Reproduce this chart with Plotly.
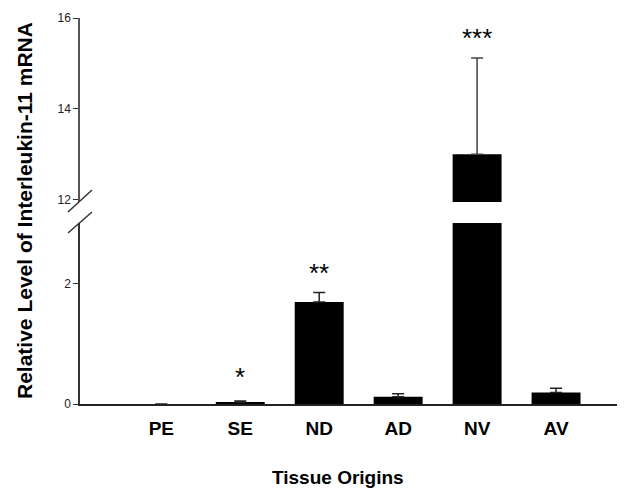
import plotly.graph_objects as go

categories = ["PE", "SE", "ND", "AD", "NV", "AV"]
values = [0.0, 0.03, 1.69, 0.12, 13.0, 0.19]
errors = [0.0, 0.02, 0.16, 0.05, 2.12, 0.07]
stars = ["", "*", "**", "", "***", ""]
star_levels = [None, 0.5, 2.22, None, 15.63, None]

LOW_MAX = 3.0
UP_MIN, UP_MAX = 11.95, 16.0

low_vals = list(values)
low_err = [e if (v <= LOW_MAX and e > 0) else None for v, e in zip(values, errors)]
up_vals = [v if v > LOW_MAX else None for v in values]
up_err = [e if v > LOW_MAX else None for v, e in zip(values, errors)]

# page offset (browser body margin)
OFF = 8
W, H = 625 - OFF, 489 - OFF
# reference pixel geometry
REF_L, REF_R, REF_T, REF_B = 80, 620, 18, 404
ml = REF_L - OFF
mt = REF_T - OFF
mr = W - (REF_R - OFF)
mb = H - (REF_B - OFF)
pw = W - ml - mr
ph = H - mt - mb


def px2paper(xr, yr):
    return (xr - REF_L) / pw, (REF_B - yr) / ph


low_top = (REF_B - 223) / ph
up_bot = (REF_B - 202) / ph

fig = go.Figure()
fig.add_trace(go.Bar(
    x=categories, y=low_vals, marker=dict(color="black", line=dict(width=0)),
    width=0.62, xaxis="x", yaxis="y",
    error_y=dict(type="data", symmetric=False, array=low_err, arrayminus=[0] * 6,
                 color="#222", thickness=1.5, width=6),
))
fig.add_trace(go.Bar(
    x=categories, y=up_vals, marker=dict(color="black", line=dict(width=0)),
    width=0.62, xaxis="x", yaxis="y2",
    error_y=dict(type="data", symmetric=False, array=up_err, arrayminus=[0] * 6,
                 color="#444", thickness=1.5, width=6),
))

font_main = "Liberation Sans, Arial, sans-serif"

annotations = []
for c, s, lv in zip(categories, stars, star_levels):
    if s:
        annotations.append(dict(
            x=c, y=lv, xref="x", yref="y2" if lv > LOW_MAX else "y",
            text=s, showarrow=False, yanchor="middle", yshift=-3,
            font=dict(family=font_main, size=26, color="black"),
        ))
tx, ty = px2paper(24, 211)
annotations.append(dict(
    x=tx, y=ty, xref="paper", yref="paper",
    text="<b>Relative Level of Interleukin-11 mRNA</b>", textangle=-90,
    showarrow=False, xanchor="center", yanchor="middle",
    font=dict(family=font_main, size=21, color="black"),
))
tx, ty = px2paper(338, 477)
annotations.append(dict(
    x=tx, y=ty, xref="paper", yref="paper",
    text="<b>Tissue Origins</b>", showarrow=False, xanchor="center", yanchor="middle",
    font=dict(family=font_main, size=19, color="black"),
))

shapes = []
for (x0, y0, x1, y1) in [(68, 212, 92, 190), (68, 233, 92, 212)]:
    a0, b0 = px2paper(x0, y0)
    a1, b1 = px2paper(x1, y1)
    shapes.append(dict(type="line", xref="paper", yref="paper", x0=a0, y0=b0, x1=a1, y1=b1,
                       line=dict(color="#333", width=1.5)))

fig.update_layout(
    width=W, height=H, margin=dict(l=ml, r=mr, t=mt, b=mb, autoexpand=False),
    paper_bgcolor="white", plot_bgcolor="white", showlegend=False,
    xaxis=dict(type="category", range=[-1.03, 5.81], anchor="y", automargin=False,
               showline=True, linecolor="#222", linewidth=1.5, ticks="", showgrid=False,
               tickfont=dict(family=font_main, size=19, color="black"),
               tickvals=categories, ticktext=[f"<b>{c}</b>" for c in categories],
               ticklabelstandoff=6),
    yaxis=dict(domain=[0, low_top], range=[0, LOW_MAX], tickvals=[0, 2], ticktext=["0", "2"],
               showline=True, linecolor="#333", linewidth=1.5, ticks="outside", ticklen=5,
               tickcolor="#333", showgrid=False, zeroline=False, automargin=False,
               tickfont=dict(family=font_main, size=12, color="#222")),
    yaxis2=dict(domain=[up_bot, 1], range=[UP_MIN, UP_MAX], tickvals=[12, 14, 16],
                anchor="x", showline=True, linecolor="#555", linewidth=1.5, ticks="outside",
                ticklen=5, tickcolor="#333", showgrid=False, zeroline=False, automargin=False,
                tickfont=dict(family=font_main, size=12, color="#222")),
    annotations=annotations, shapes=shapes,
)

fig.write_html("out.html")
